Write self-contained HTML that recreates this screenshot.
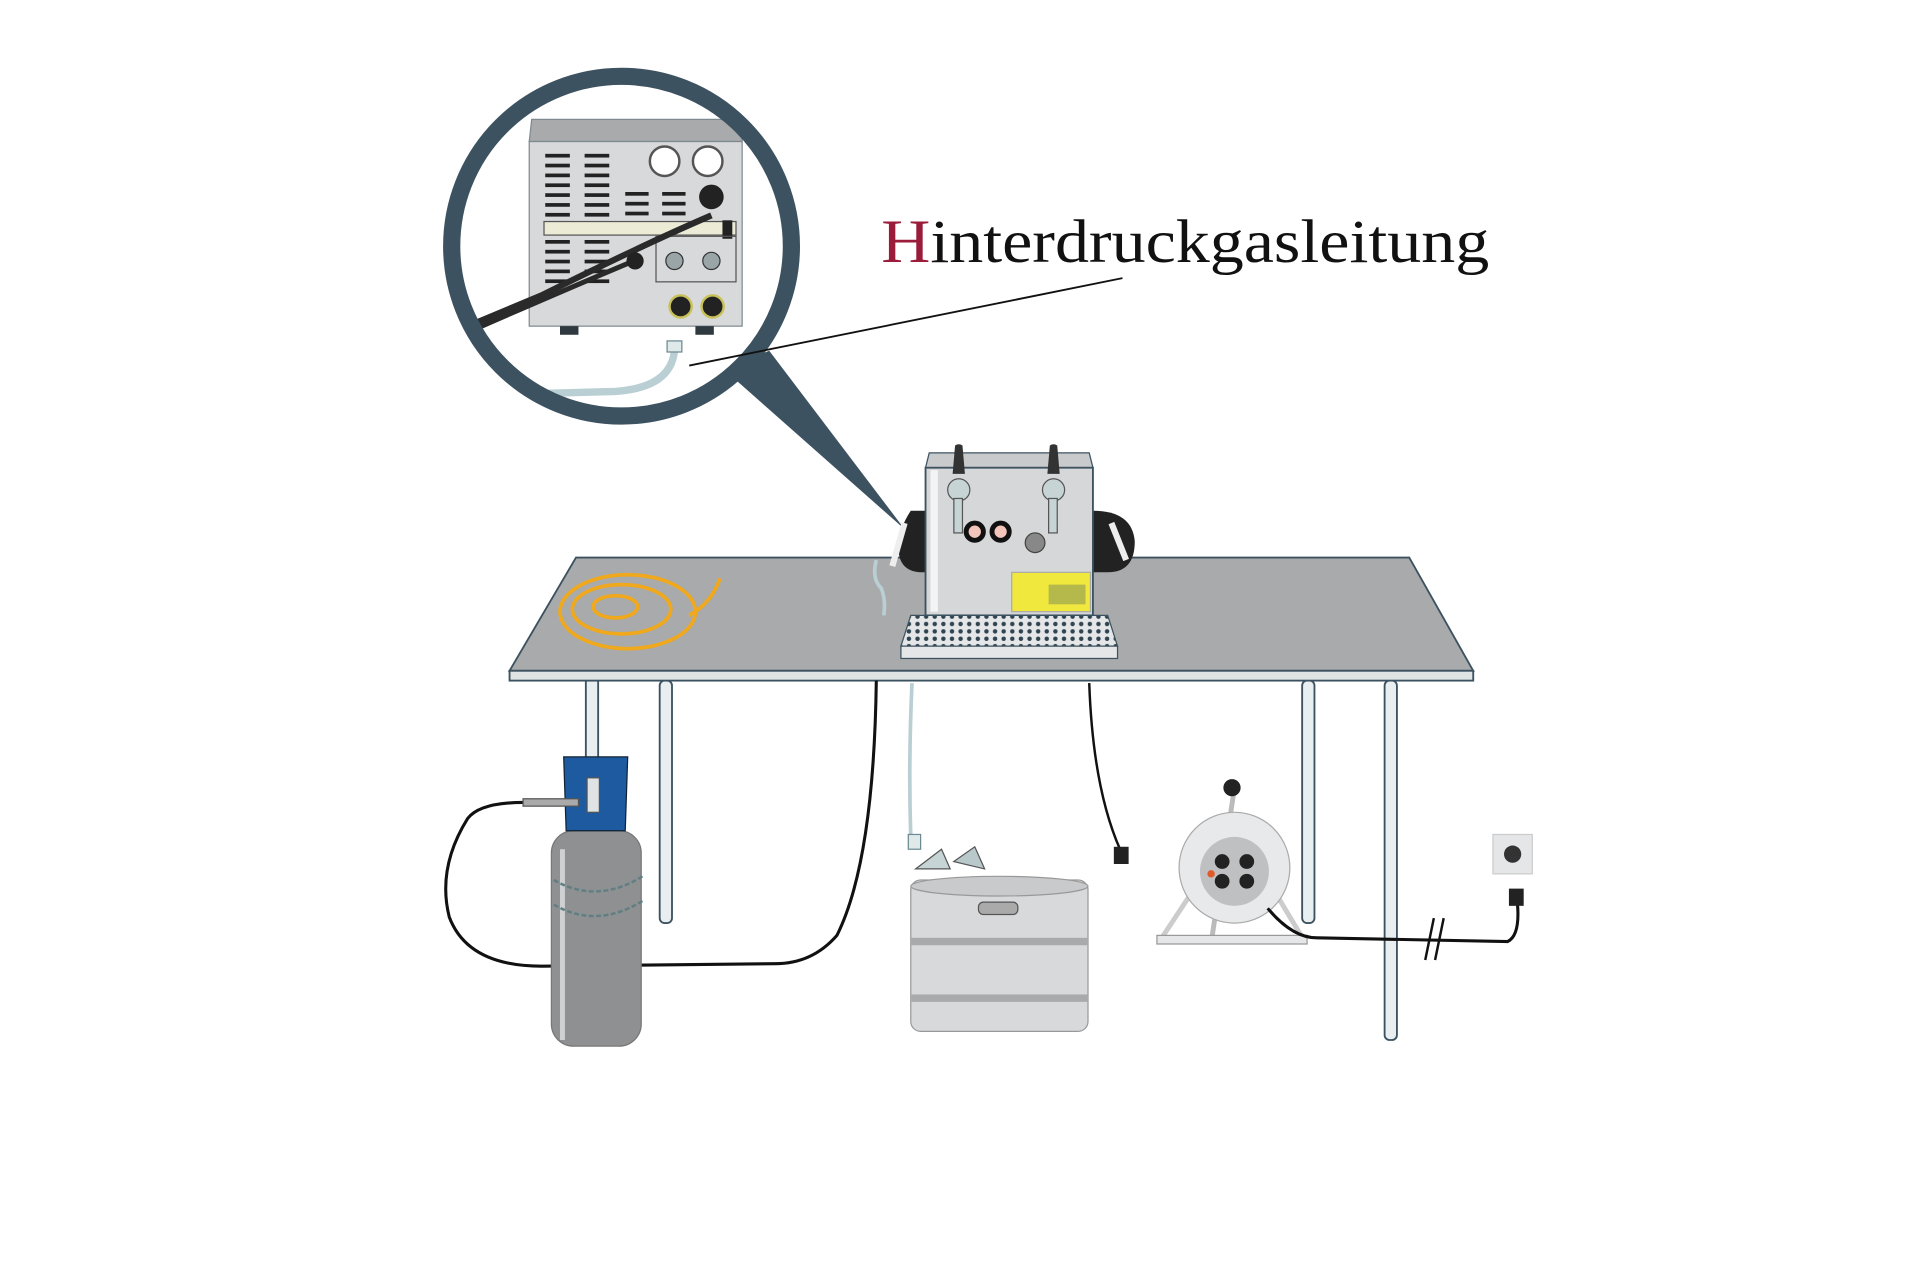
<!DOCTYPE html>
<html><head><meta charset="utf-8"><style>html,body{margin:0;padding:0;background:#fff}svg{display:block}</style></head>
<body>
<svg width="1920" height="1280" viewBox="0 0 1560 1040" preserveAspectRatio="none" xmlns="http://www.w3.org/2000/svg">
<defs>
<pattern id="dots" width="7" height="6" patternUnits="userSpaceOnUse"><rect width="7" height="6" fill="#e4e6e7"/><circle cx="3.5" cy="3" r="1.8" fill="#2f4450"/></pattern>
<clipPath id="cc"><circle cx="505" cy="200" r="138"/></clipPath>
</defs>
<rect width="1560" height="1040" fill="#fff"/>

<!-- magnifier -->
<path d="M588,300 L735,430 L625,285 Z" fill="#3d5260"/>
<circle cx="505" cy="200" r="138" fill="#fff"/>
<g clip-path="url(#cc)">
  <path d="M432,97 L603,97 L603,115 L430,115 Z" fill="#a9aaab" stroke="#7f8a90"/>
  <rect x="430" y="115" width="173" height="150" fill="#d8d9da" stroke="#7f8a90"/>
  <g fill="#222">
    <rect x="443" y="125" width="20" height="3"/><rect x="443" y="133" width="20" height="3"/><rect x="443" y="141" width="20" height="3"/><rect x="443" y="149" width="20" height="3"/><rect x="443" y="157" width="20" height="3"/><rect x="443" y="165" width="20" height="3"/><rect x="443" y="173" width="20" height="3"/>
    <rect x="443" y="195" width="20" height="3"/><rect x="443" y="203" width="20" height="3"/><rect x="443" y="211" width="20" height="3"/><rect x="443" y="219" width="20" height="3"/><rect x="443" y="227" width="20" height="3"/>
    <rect x="475" y="125" width="20" height="3"/><rect x="475" y="133" width="20" height="3"/><rect x="475" y="141" width="20" height="3"/><rect x="475" y="149" width="20" height="3"/><rect x="475" y="157" width="20" height="3"/><rect x="475" y="165" width="20" height="3"/><rect x="475" y="173" width="20" height="3"/>
    <rect x="475" y="195" width="20" height="3"/><rect x="475" y="203" width="20" height="3"/><rect x="475" y="211" width="20" height="3"/><rect x="475" y="219" width="20" height="3"/><rect x="475" y="227" width="20" height="3"/>
    <rect x="508" y="156" width="19" height="3"/><rect x="508" y="164" width="19" height="3"/><rect x="508" y="172" width="19" height="3"/>
    <rect x="538" y="156" width="19" height="3"/><rect x="538" y="164" width="19" height="3"/><rect x="538" y="172" width="19" height="3"/>
  </g>
  <circle cx="540" cy="131" r="12" fill="#fff" stroke="#555" stroke-width="2"/>
  <circle cx="575" cy="131" r="12" fill="#fff" stroke="#555" stroke-width="2"/>
  <circle cx="578" cy="160" r="10" fill="#222"/>
  <rect x="442" y="180" width="156" height="11" fill="#ecebd5" stroke="#555"/>
  <rect x="587" y="179" width="8" height="15" fill="#222"/>
  <rect x="533" y="192" width="65" height="37" fill="none" stroke="#555"/>
  <circle cx="548" cy="212" r="7" fill="#9aa5a8" stroke="#333"/><circle cx="578" cy="212" r="7" fill="#9aa5a8" stroke="#333"/>
  <circle cx="553" cy="249" r="9" fill="#222" stroke="#c9c25a" stroke-width="2"/><circle cx="579" cy="249" r="9" fill="#222" stroke="#c9c25a" stroke-width="2"/>
  <rect x="455" y="265" width="15" height="7" fill="#2e3a40"/><rect x="565" y="265" width="15" height="7" fill="#2e3a40"/>
  <path d="M578,175 Q520,200 440,240 L380,265" stroke="#2a2a2a" stroke-width="5" fill="none"/>
  <path d="M515,212 Q460,235 380,270" stroke="#2a2a2a" stroke-width="4" fill="none"/>
  <circle cx="516" cy="212" r="7" fill="#222"/>
  <path d="M548,285 Q545,315 500,318 L430,320" stroke="#b9cfd3" stroke-width="6" fill="none"/>
  <rect x="542" y="277" width="12" height="9" fill="#dfe9ea" stroke="#6b8a92"/>
</g>
<circle cx="505" cy="200" r="138" fill="none" stroke="#3d5260" stroke-width="14"/>
<line x1="560" y1="297" x2="912" y2="226" stroke="#111" stroke-width="1.5"/>
<text x="716" y="213" font-family="'Liberation Serif',serif" font-size="50" fill="#111" textLength="494" lengthAdjust="spacingAndGlyphs"><tspan fill="#9b1b3a">H</tspan>interdruckgasleitung</text>

<!-- legs -->
<g fill="#e9eef0" stroke="#3d5260" stroke-width="1.5">
<rect x="476" y="553" width="10" height="65"/>
<rect x="536" y="553" width="10" height="197" rx="4"/>
<rect x="1058" y="553" width="10" height="197" rx="4"/>
<rect x="1125" y="553" width="10" height="292" rx="4"/>
</g>
<!-- table -->
<path d="M468,453 L1145,453 L1197,545 L414,545 Z" fill="#a9aaab" stroke="#3d5260" stroke-width="1.5"/>
<rect x="414" y="545" width="783" height="8" fill="#dfe3e4" stroke="#3d5260" stroke-width="1.5"/>

<!-- yellow hose -->
<g fill="none" stroke="#f0a81c" stroke-width="3">
<ellipse cx="510" cy="497" rx="55" ry="30"/>
<ellipse cx="505" cy="495" rx="40" ry="20"/>
<ellipse cx="500" cy="493" rx="18" ry="9"/>
<path d="M560,500 Q578,490 585,470"/>
</g>

<!-- tap unit -->
<path d="M740,415 Q730,430 730,445 Q730,465 750,465 L752,465 L752,415 Z" fill="#222"/>
<path d="M888,415 Q920,415 922,440 Q922,465 900,465 L888,465 Z" fill="#222"/>
<line x1="735" y1="425" x2="725" y2="460" stroke="#eee" stroke-width="5"/>
<line x1="903" y1="425" x2="915" y2="455" stroke="#eee" stroke-width="5"/>
<path d="M755,368 L885,368 L888,380 L752,380 Z" fill="#c9cacb" stroke="#3d5260"/>
<rect x="752" y="380" width="136" height="120" fill="#d6d7d8" stroke="#3d5260" stroke-width="1.5"/>
<rect x="756" y="382" width="6" height="115" fill="#f4f4f4"/>
<path d="M776,362 Q779,360 782,362 L784,385 L774,385 Z" fill="#333"/>
<path d="M853,362 Q856,360 859,362 L861,385 L851,385 Z" fill="#333"/>
<circle cx="779" cy="398" r="9" fill="#c7d4d6" stroke="#555"/><rect x="775" y="405" width="7" height="28" fill="#c7d4d6" stroke="#555"/>
<circle cx="856" cy="398" r="9" fill="#c7d4d6" stroke="#555"/><rect x="852" y="405" width="7" height="28" fill="#c7d4d6" stroke="#555"/>
<circle cx="792" cy="432" r="7" fill="#f4c5bb" stroke="#111" stroke-width="4"/>
<circle cx="813" cy="432" r="7" fill="#f4c5bb" stroke="#111" stroke-width="4"/>
<circle cx="841" cy="441" r="8" fill="#888" stroke="#444"/>
<rect x="822" y="465" width="64" height="32" fill="#f0e83c" stroke="#aaa"/>
<rect x="852" y="475" width="30" height="16" fill="#b5b84a"/>
<path d="M740,500 L900,500 L908,525 L732,525 Z" fill="url(#dots)" stroke="#3d5260"/>
<rect x="732" y="525" width="176" height="10" fill="#e4e6e7" stroke="#3d5260"/>
<path d="M712,455 Q708,470 716,478 Q720,488 718,500" stroke="#b9cfd3" stroke-width="3" fill="none"/>

<!-- cables -->
<path d="M712,553 Q710,700 680,760 Q660,783 630,783 L440,785 Q380,785 365,745 Q355,705 380,665 Q390,652 425,652" stroke="#111" stroke-width="2.5" fill="none"/>
<path d="M741,555 Q738,620 740,680" stroke="#b9cfd3" stroke-width="3" fill="none"/>
<path d="M885,555 Q888,640 910,690" stroke="#111" stroke-width="2" fill="none"/>
<rect x="905" y="688" width="12" height="14" fill="#222"/>
<rect x="738" y="678" width="10" height="12" fill="#dfe9ea" stroke="#6b8a92"/>

<!-- bottle -->
<rect x="448" y="675" width="73" height="175" rx="18" fill="#8f9092" stroke="#777"/>
<rect x="455" y="690" width="4" height="155" fill="#cfd0d1"/>
<path d="M450,715 Q485,735 522,712 M450,735 Q485,755 522,732" stroke="#5f7f82" stroke-width="2" fill="none" stroke-dasharray="4 2"/>
<path d="M458,615 L510,615 L508,675 L460,675 Z" fill="#1e5aa0" stroke="#123"/>
<rect x="477" y="632" width="10" height="28" fill="#dfe3e4" stroke="#555"/>
<rect x="425" y="649" width="45" height="6" fill="#aaa" stroke="#555"/>

<!-- keg -->
<path d="M744,706 L765,690 L772,706 Z" fill="#c7d4d6" stroke="#555"/>
<path d="M775,700 L792,688 L800,706 Z" fill="#b9c8cb" stroke="#555"/>
<path d="M790,712 L810,718 L803,728 L785,722 Z" fill="#222"/>
<rect x="740" y="715" width="144" height="123" rx="8" fill="#d8d9da" stroke="#999"/>
<ellipse cx="812" cy="720" rx="72" ry="8" fill="#c9cacb" stroke="#999"/>
<rect x="795" y="733" width="32" height="10" rx="4" fill="#aaa" stroke="#555"/>
<rect x="740" y="762" width="144" height="6" fill="#a9aaab"/>
<rect x="740" y="808" width="144" height="6" fill="#a9aaab"/>

<!-- cable reel -->
<line x1="1003" y1="640" x2="985" y2="760" stroke="#bbb" stroke-width="4"/>
<circle cx="1001" cy="640" r="7" fill="#222"/>
<path d="M942,765 L975,715 M1060,765 L1030,715" stroke="#ccc" stroke-width="4"/>
<rect x="940" y="760" width="122" height="7" fill="#e4e6e7" stroke="#999"/>
<circle cx="1003" cy="705" r="45" fill="#e8e9ea" stroke="#aaa"/>
<circle cx="1003" cy="708" r="28" fill="#bfc0c1"/>
<circle cx="993" cy="700" r="6" fill="#222"/><circle cx="1013" cy="700" r="6" fill="#222"/><circle cx="993" cy="716" r="6" fill="#222"/><circle cx="1013" cy="716" r="6" fill="#222"/>
<circle cx="984" cy="710" r="3" fill="#e05a2a"/>
<path d="M1030,738 Q1050,762 1070,762 L1225,765 Q1235,760 1233,735" stroke="#111" stroke-width="2.5" fill="none"/>
<rect x="1226" y="722" width="12" height="14" fill="#222"/>
<line x1="1158" y1="780" x2="1165" y2="746" stroke="#111" stroke-width="2"/>
<line x1="1166" y1="780" x2="1173" y2="746" stroke="#111" stroke-width="2"/>
<rect x="1213" y="678" width="32" height="32" fill="#e4e6e7" stroke="#ccc"/>
<circle cx="1229" cy="694" r="7" fill="#333"/>
</svg>
</body></html>
